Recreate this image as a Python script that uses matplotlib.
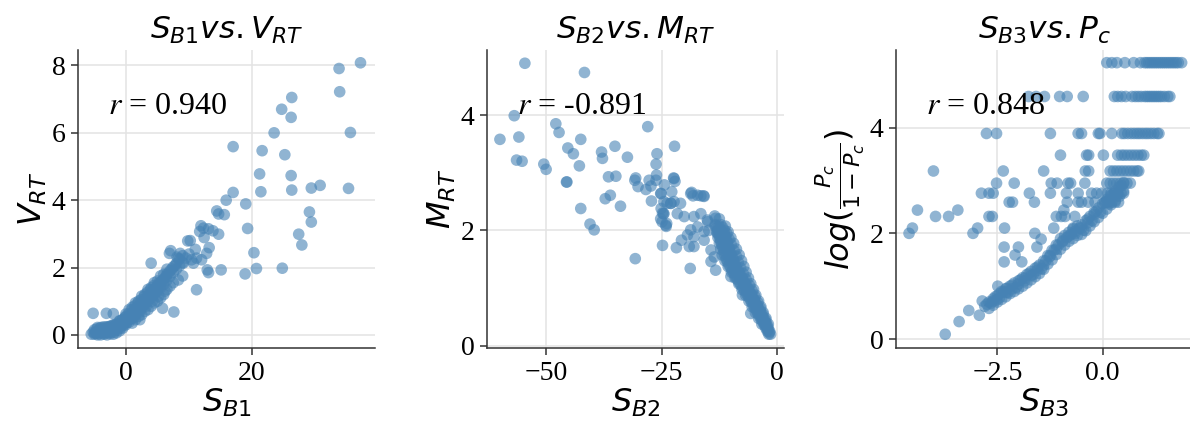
import matplotlib
matplotlib.use("Agg")
import matplotlib.pyplot as plt

# --- Data ---
# panel 1: S_B1 vs V_RT (scattered points, then the dense band near the origin)
s_b1_sparse = [37.2, 33.8, 33.9, 35.6, 35.3, 26.3, 24.7, 26.2, 23.5, 17.0,
               21.6, 25.2, 21.2, 26.2, 21.4, 26.3, 29.4, 30.8, 17.0, 15.9,
               19.0, 14.4, 14.7, 15.6, 29.1, 29.4, 19.3, 27.4, 27.9, 20.3,
               20.7, 24.8, 18.9, 15.1, 13.1, 12.9, 11.2, 11.9, 12.3, 13.1,
               13.8, 14.7, 11.7, 12.4, 10.2, 11.0, 13.2, 12.8, 11.2, 10.4,
               10.7, 9.8, 7.1, 8.6, 8.1, 9.1, 12.0, 4.0, 5.8, 7.6,
               -5.2, -3.1, -2.0, 8.3, 8.3, 9.0, 7.5, 6.9, 2.2]
v_rt_sparse = [8.08, 7.91, 7.22, 6.01, 4.35, 7.05, 6.70, 6.46, 6.00, 5.59,
               5.47, 5.35, 4.78, 4.73, 4.25, 4.30, 4.36, 4.44, 4.23, 4.00,
               3.89, 3.68, 3.59, 3.57, 3.65, 3.35, 3.16, 2.99, 2.67, 2.44,
               1.97, 1.98, 1.81, 1.93, 1.85, 1.93, 1.34, 3.24, 3.17, 3.15,
               3.09, 2.99, 3.07, 2.89, 2.80, 2.54, 2.59, 2.42, 2.28, 2.23,
               2.13, 2.79, 2.50, 2.42, 2.31, 2.13, 2.23, 2.13, 0.79, 0.68,
               0.64, 0.64, 0.63, 2.27, 1.63, 1.75, 1.55, 2.42, 0.45]
s_b1_dense = [-5.5, -5.0, -5.0, -4.5, -4.5, -4.0, -4.0, -4.0, -3.5, -3.5,
              -3.0, -3.0, -3.0, -2.5, -2.5, -2.0, -2.0, -2.0, -1.5, -1.5,
              -1.0, -1.0, -1.0, -0.5, -0.5, 0.0, 0.0, 0.0, 0.5, 0.5,
              1.0, 1.0, 1.0, 1.5, 1.5, 2.0, 2.0, 2.0, 2.5, 2.5,
              3.0, 3.0, 3.0, 3.5, 3.5, 4.0, 4.0, 4.0, 4.5, 4.5,
              5.0, 5.0, 5.0, 5.5, 5.5, 6.0, 6.0, 6.0, 6.5, 6.5,
              7.0, 7.0, 7.5, 7.5, 8.0, 8.0, 8.5, 8.5, 9.0, 9.0, 9.5, 10.0,
              -4.75, -4.25, -3.75, -3.25, -2.75, -2.25, -1.75, -1.25, -0.75, -0.25,
              0.25, 0.75, 1.25, 1.75, 2.25, 2.75, 3.25, 3.75, 4.25, 4.75, 5.25,
              -5.2, -4.9, -4.6, -4.4, -4.1, -3.9, -3.6, -3.4, -3.1, -2.9,
              -2.6, -2.4, -2.1, -1.9, -1.6, -1.4, -1.1, -0.9, -0.6, -0.4,
              -0.1, 0.1, 0.4, 0.6, 0.9, 1.1, 1.4, 1.6, 1.9, 2.1,
              2.4, 2.6, 2.9, 3.1, 3.4, 3.6, 3.9, 4.1, 4.4, 4.6,
              5.2, 5.8, 6.3, 6.8, 7.3, 7.8,
              1.0, 1.5, 2.0, 2.5, 3.0, 3.5, 4.0, 4.5, 5.0, 5.5, 6.0, 6.5, 7.0,
              1.2, 2.2, 3.2, 4.2, 5.2, 6.2,
              0.5, 1.5, 2.5, 3.5, 4.5, 5.5, 6.5,
              -4.5, -3.5, -2.5, -1.5, -0.5, -3.0, -2.0, -4.0, -1.0, 0.0]
v_rt_dense = [0.02, 0.02, 0.15, 0.00, 0.12, 0.00, 0.10, 0.20, 0.02, 0.14,
              0.00, 0.10, 0.22, 0.03, 0.16, 0.02, 0.14, 0.28, 0.06, 0.20,
              0.12, 0.26, 0.42, 0.20, 0.36, 0.30, 0.45, 0.62, 0.38, 0.56,
              0.50, 0.66, 0.82, 0.60, 0.78, 0.70, 0.86, 1.00, 0.80, 0.96,
              0.90, 1.06, 1.20, 1.00, 1.16, 1.10, 1.26, 1.40, 1.20, 1.36,
              1.30, 1.46, 1.60, 1.40, 1.56, 1.50, 1.66, 1.80, 1.62, 1.80,
              1.74, 1.90, 1.85, 2.02, 1.95, 2.12, 2.05, 2.25, 2.15, 2.35, 2.28, 2.40,
              0.06, 0.08, 0.10, 0.09, 0.12, 0.15, 0.18, 0.22, 0.28, 0.35,
              0.45, 0.55, 0.65, 0.72, 0.85, 0.92, 1.00, 1.10, 1.20, 1.30, 1.42,
              0.08, 0.05, 0.18, 0.04, 0.14, 0.06, 0.20, 0.05, 0.16, 0.06,
              0.24, 0.08, 0.20, 0.08, 0.30, 0.14, 0.34, 0.20, 0.44, 0.28,
              0.52, 0.36, 0.62, 0.46, 0.74, 0.56, 0.86, 0.66, 0.94, 0.76,
              1.04, 0.86, 1.14, 0.96, 1.26, 1.06, 1.34, 1.16, 1.46, 1.26,
              1.54, 1.62, 1.72, 1.84, 1.96, 2.06,
              0.35, 0.45, 0.55, 0.60, 0.70, 0.75, 0.85, 0.95, 1.00, 1.10, 1.20, 1.35, 1.45,
              0.50, 0.68, 0.85, 1.00, 1.15, 1.30,
              0.75, 0.95, 1.15, 1.35, 1.55, 1.75, 1.95,
              0.22, 0.24, 0.26, 0.32, 0.46, 0.24, 0.30, 0.22, 0.40, 0.55]

# panel 2: S_B2 vs M_RT
s_b2_sparse = [-54.6, -41.7, -56.9, -60.0, -55.9, -56.4, -55.2, -47.9, -47.2, -42.5,
               -45.3, -44.1, -50.5, -50.0, -42.8, -45.5, -45.6, -42.5, -40.5, -39.6,
               -38.0, -37.8, -35.1, -36.5, -34.9, -36.1, -37.2, -33.9, -32.4, -28.0,
               -30.7, -30.6, -30.1, -30.8, -28.4, -27.3, -27.7, -26.0, -26.2, -26.1,
               -26.2, -22.2, -22.4, -22.1, -27.2, -24.8, -24.0, -24.9, -24.8, -24.5,
               -22.8, -23.0, -21.8, -20.7, -19.0, -18.8, -18.5, -18.2, -16.5, -15.9,
               -25.1, -24.4, -25.1, -24.6, -23.9, -23.0, -18.7, -17.2, -15.8, -22.3,
               -25.2, -20.9, -22.3, -23.8, -24.5, -21.6, -20.1, -18.0, -16.5, -15.1,
               -17.2, -18.7, -19.4, -18.0, -15.8, -18.0, -15.8, -14.3, -13.6, -13.3,
               -12.9, -24.1, -25.2, -13.3, -14.3, -10.0, -7.5, -5.7, -15.0, -14.8,
               -13.5, -12.5]
m_rt_sparse = [4.90, 4.74, 3.99, 3.58, 3.62, 3.22, 3.20, 3.85, 3.70, 3.58,
               3.43, 3.33, 3.15, 3.06, 3.12, 2.84, 2.84, 2.38, 2.11, 2.01,
               3.36, 3.25, 3.46, 2.93, 2.94, 2.61, 2.55, 2.42, 3.27, 3.80,
               1.51, 2.91, 2.76, 2.87, 2.71, 2.77, 2.87, 3.33, 3.15, 2.96,
               2.87, 3.46, 2.91, 2.85, 2.51, 1.74, 2.07, 2.15, 2.30, 2.50,
               2.67, 2.47, 1.70, 1.83, 1.72, 1.34, 2.66, 2.60, 2.60, 2.60,
               2.64, 2.79, 2.38, 2.29, 2.12, 2.47, 2.64, 2.61, 2.59, 2.90,
               2.64, 2.47, 2.50, 2.47, 2.29, 2.29, 2.24, 2.24, 2.29, 2.18,
               2.06, 2.01, 1.92, 1.89, 1.98, 1.72, 1.83, 1.66, 1.54, 2.21,
               1.95, 2.09, 2.20, 1.31, 1.46, 1.20, 0.88, 0.56, 2.15, 2.00,
               2.25, 2.20]
s_b2_band = [-13.4, -12.2, -13.0, -11.8, -12.8, -11.4, -12.7, -11.5, -10.9, -12.5, -11.2,
             -12.3, -11.0, -10.4, -12.2, -10.8, -12.0, -10.7, -9.9, -11.8, -10.4,
             -11.6, -10.3, -9.3, -11.4, -10.0, -11.2, -9.8, -8.8, -11.0, -9.5,
             -10.7, -9.3, -8.4, -10.4, -9.0, -10.0, -8.8, -7.9, -9.7, -8.4,
             -9.3, -8.1, -7.3, -9.0, -7.7, -8.6, -7.4, -6.7, -8.2, -7.0,
             -7.8, -6.7, -6.0, -7.4, -6.3, -7.0, -6.0, -5.4, -6.6, -5.6,
             -6.2, -5.3, -4.8, -5.8, -5.0, -5.5, -4.7, -4.2, -5.1, -4.3,
             -4.8, -4.0, -3.6, -4.4, -3.7, -4.1, -3.4, -3.1, -3.7, -3.1,
             -3.4, -2.8, -2.5, -3.0, -2.4, -2.7, -2.1, -2.4, -1.9, -2.1, -1.6, -1.8, -1.4,
             -12.6, -12.4, -12.0, -11.8, -11.6, -11.4, -11.2, -11.0, -10.8, -10.6,
             -10.4, -10.2, -9.9, -9.6, -9.3, -8.9, -8.6, -8.2, -7.9, -7.5,
             -7.2, -6.8, -6.5, -6.1, -5.8, -5.4, -5.1, -4.8, -4.4, -4.1,
             -3.8, -3.5, -3.2, -2.9, -2.6, -2.3, -2.0, -1.7,
             -13.4, -13.1, -12.8, -12.5, -12.2, -11.9, -11.3, -10.6, -9.9, -9.1,
             -8.3, -7.6, -6.8, -6.1, -5.4, -4.7, -4.0, -3.3,
             -11.2, -10.6, -10.0, -9.4, -8.8, -8.2, -7.7, -7.2, -6.7, -6.2,
             -5.7, -5.1, -4.6, -4.0, -3.5, -3.0, -2.4, -1.9]
m_rt_band = [2.10, 2.10, 2.05, 2.05, 2.00, 2.00, 1.95, 1.95, 1.95, 1.90, 1.90,
             1.85, 1.85, 1.85, 1.80, 1.80, 1.75, 1.75, 1.75, 1.70, 1.70,
             1.65, 1.65, 1.65, 1.60, 1.60, 1.55, 1.55, 1.55, 1.50, 1.50,
             1.45, 1.45, 1.45, 1.40, 1.40, 1.35, 1.35, 1.35, 1.30, 1.30,
             1.25, 1.25, 1.25, 1.20, 1.20, 1.15, 1.15, 1.15, 1.10, 1.10,
             1.05, 1.05, 1.05, 1.00, 1.00, 0.95, 0.95, 0.95, 0.90, 0.90,
             0.85, 0.85, 0.85, 0.80, 0.80, 0.75, 0.75, 0.75, 0.70, 0.70,
             0.65, 0.65, 0.65, 0.60, 0.60, 0.55, 0.55, 0.55, 0.50, 0.50,
             0.45, 0.45, 0.45, 0.40, 0.40, 0.35, 0.35, 0.30, 0.30, 0.25, 0.25, 0.20, 0.20,
             2.075, 2.025, 1.975, 1.925, 1.875, 1.825, 1.775, 1.725, 1.675, 1.625,
             1.575, 1.525, 1.475, 1.425, 1.375, 1.325, 1.275, 1.225, 1.175, 1.125,
             1.075, 1.025, 0.975, 0.925, 0.875, 0.825, 0.775, 0.725, 0.675, 0.625,
             0.575, 0.525, 0.475, 0.425, 0.375, 0.325, 0.275, 0.225,
             2.075, 1.975, 1.875, 1.775, 1.675, 1.575, 1.475, 1.375, 1.275, 1.175,
             1.075, 0.975, 0.875, 0.775, 0.675, 0.575, 0.475, 0.375,
             2.075, 1.975, 1.875, 1.775, 1.675, 1.575, 1.475, 1.375, 1.275, 1.175,
             1.075, 0.975, 0.875, 0.775, 0.675, 0.575, 0.475, 0.375]

# panel 3: S_B3 vs log(Pc / (1 - Pc)); many y values fall on discrete levels
row_levels = [5.23, 4.59, 3.89, 3.48, 3.18, 2.95, 2.76, 2.59, 2.44, 2.32, 2.10, 2.00]
row_s_b3 = [
    [0.10, 0.22, 0.34, 0.53, 0.74, 0.90, 1.00, 1.05, 1.10, 1.15, 1.20, 1.25, 1.30, 1.35, 1.40,
     1.45, 1.50, 1.55, 1.60, 1.65, 1.70, 1.75, 1.80, 1.88],
    [-1.76, -1.58, -1.38, -1.02, -0.84, -0.46, 0.28, 0.36, 0.45, 0.55, 0.70, 0.78, 0.85, 0.92,
     1.00, 1.05, 1.10, 1.15, 1.20, 1.25, 1.30, 1.35, 1.40, 1.47, 1.55, 1.60],
    [-2.76, -2.52, -1.24, -0.58, -0.50, -0.10, -0.06, 0.22, 0.46, 0.52, 0.60, 0.68, 0.75, 0.82,
     0.88, 0.95, 1.02, 1.08, 1.15, 1.22, 1.30, 1.34],
    [-1.00, -0.38, -0.33, 0.02, 0.36, 0.45, 0.52, 0.60, 0.68, 0.76, 0.84, 0.92, 0.98],
    [-4.02, -2.36, -1.40, -0.41, -0.33, 0.18, 0.26, 0.34, 0.42, 0.50, 0.58, 0.66, 0.74, 0.82, 0.86],
    [-2.52, -2.10, -1.22, -1.08, -0.82, -0.76, -0.42, 0.10, 0.18, 0.26, 0.34, 0.42, 0.50, 0.58, 0.66],
    [-2.88, -2.70, -2.60, -1.74, -1.24, -0.86, -0.58, -0.26, -0.14, -0.02, 0.12, 0.20, 0.28, 0.36,
     0.44, 0.50],
    [-2.22, -2.14, -1.62, -0.84, -0.58, -0.50, -0.34, -0.18, 0.06, 0.14, 0.22, 0.30, 0.38],
    [-4.40, -3.44, -0.92],
    [-3.97, -3.66, -2.70, -2.62, -1.10, -0.98, -0.89, -0.66],
    [-4.52, -2.97, -2.33, -1.16, -0.70],
    [-4.60, -3.08, -1.61],
]
s_b3_other = [-1.46, -2.34, -2.00, -1.56, -2.08, -2.34, -1.92,
              -3.74, -3.41, -3.18, -2.93, -2.86, -2.49, -2.28, -2.52,
              -2.8, -2.7, -2.7, -2.6, -2.6, -2.5, -2.5, -2.4, -2.4, -2.3, -2.3, -2.2, -2.2,
              -2.1, -2.1, -2.0, -2.0, -1.9, -1.9, -1.8, -1.8, -1.7, -1.7, -1.6, -1.6,
              -1.5, -1.5, -1.4, -1.4, -1.3, -1.3, -1.2, -1.2, -1.1, -1.1, -1.0, -1.0,
              -0.9, -0.9, -0.8, -0.8, -0.7, -0.7, -0.6, -0.6, -0.5, -0.5, -0.4, -0.4,
              -0.3, -0.3, -0.2, -0.2, -0.1, -0.1, 0.0, 0.0, 0.1, 0.1, 0.2, 0.2,
              0.3, 0.3, 0.4, 0.4, 0.5, 0.5,
              -2.75, -2.65, -2.55, -2.45, -2.35, -2.25, -2.15, -2.05, -1.95, -1.85,
              -1.75, -1.65, -1.55, -1.45, -1.35, -1.25, -1.15, -1.05, -0.95, -0.85,
              -0.75, -0.65, -0.55, -0.45, -0.35, -0.25, -0.15, -0.05, 0.05, 0.15,
              0.25, 0.35, 0.45,
              -2.6, -2.3, -2.0, -1.7, -1.4, -1.1, -0.8, -0.5, -0.2, 0.1,
              -2.45, -2.15, -1.85, -1.55, -1.25, -0.95, -0.65, -0.35]
logit_pc_other = [1.89, 1.74, 1.74, 1.74, 1.59, 1.46, 1.46,
                  0.09, 0.33, 0.54, 0.45, 0.72, 1.00, 0.96, 0.74,
                  0.62, 0.58, 0.70, 0.64, 0.76, 0.70, 0.82, 0.75, 0.90, 0.80, 0.95, 0.86, 1.00,
                  0.90, 1.06, 0.95, 1.10, 1.00, 1.16, 1.06, 1.22, 1.12, 1.28, 1.18, 1.34,
                  1.24, 1.40, 1.32, 1.48, 1.42, 1.58, 1.50, 1.68, 1.60, 1.78, 1.70, 1.90,
                  1.78, 1.96, 1.85, 2.02, 1.90, 2.08, 1.96, 2.14, 1.98, 2.16, 2.05, 2.24,
                  2.14, 2.32, 2.22, 2.40, 2.30, 2.48, 2.38, 2.56, 2.46, 2.64, 2.54, 2.72,
                  2.62, 2.80, 2.70, 2.88, 2.80, 2.96,
                  0.66, 0.68, 0.80, 0.78, 0.90, 0.88, 1.02, 0.98, 1.12, 1.10,
                  1.24, 1.22, 1.36, 1.33, 1.48, 1.56, 1.68, 1.78, 1.84, 1.92,
                  1.98, 2.04, 2.10, 2.06, 2.27, 2.24, 2.42, 2.40, 2.58, 2.56,
                  2.74, 2.72, 2.90,
                  0.72, 0.88, 1.04, 1.20, 1.40, 1.70, 1.95, 2.10, 2.36, 2.60,
                  0.86, 0.95, 1.15, 1.30, 1.58, 1.86, 2.00, 2.20]

r_values = ["0.940", "-0.891", "0.848"]

# --- Assemble per panel ---
s_b1 = s_b1_sparse + s_b1_dense
v_rt = v_rt_sparse + v_rt_dense
s_b2 = s_b2_sparse + s_b2_band
m_rt = m_rt_sparse + m_rt_band
s_b3, logit_pc = [], []
for level, xs in zip(row_levels, row_s_b3):
    s_b3 += xs
    logit_pc += [level] * len(xs)
s_b3 += s_b3_other
logit_pc += logit_pc_other

# --- Style ---
plt.rcParams["font.family"] = ["Liberation Serif", "DejaVu Serif"]
plt.rcParams["mathtext.fontset"] = "dejavusans"

fig = plt.figure(figsize=(11.9, 4.3), dpi=100)
W, H = 1190, 430
axes = [fig.add_axes([l / W, 82 / H, 297 / W, 298 / H]) for l in (78, 487, 896)]

panels = [
    (s_b1, v_rt, r"$S_{B1} vs. V_{RT}$", r"$S_{B1}$", r"$V_{RT}$",
     (-7.6, 39.5), (-0.39, 8.46), [0, 20], [0, 2, 4, 6, 8]),
    (s_b2, m_rt, r"$S_{B2} vs. M_{RT}$", r"$S_{B2}$", r"$M_{RT}$",
     (-62.8, 1.5), (-0.04, 5.13), [-50, -25, 0], [0, 2, 4]),
    (s_b3, logit_pc, r"$S_{B3} vs. P_{c}$", r"$S_{B3}$", r"$log(\frac{P_c}{1-P_c})$",
     (-4.91, 2.15), (-0.17, 5.47), [-2.5, 0.0], [0, 2, 4]),
]

for ax, (x, y, title, xl, yl, xlim, ylim, xt, yt), r in zip(axes, panels, r_values):
    ax.scatter(x, y, s=70, color="steelblue", alpha=0.6, edgecolors="none", zorder=2)
    ax.set_xlim(*xlim)
    ax.set_ylim(*ylim)
    ax.set_xticks(xt)
    ax.set_yticks(yt)
    if xt[0] == -2.5:
        ax.set_xticklabels(["\u22122.5", "0.0"])
    ax.grid(color="#e3e3e3", linewidth=1.1, zorder=0)
    ax.set_axisbelow(True)
    for side in ("top", "right"):
        ax.spines[side].set_visible(False)
    for side in ("left", "bottom"):
        ax.spines[side].set_color("#333333")
        ax.spines[side].set_linewidth(1.1)
    ax.tick_params(labelsize=20, length=5, width=1.1, color="#333333", pad=4)
    ax.set_title(title, fontsize=22.5, pad=8)
    ax.set_xlabel(xl, fontsize=23, labelpad=1)
    ax.set_ylabel(yl, fontsize=23, labelpad=2)
    ax.text(0.10, 0.785, r"$r$ = %s" % r, transform=ax.transAxes, fontsize=23,
            math_fontfamily="stix", zorder=3)

fig.savefig("out.png", dpi=100)
